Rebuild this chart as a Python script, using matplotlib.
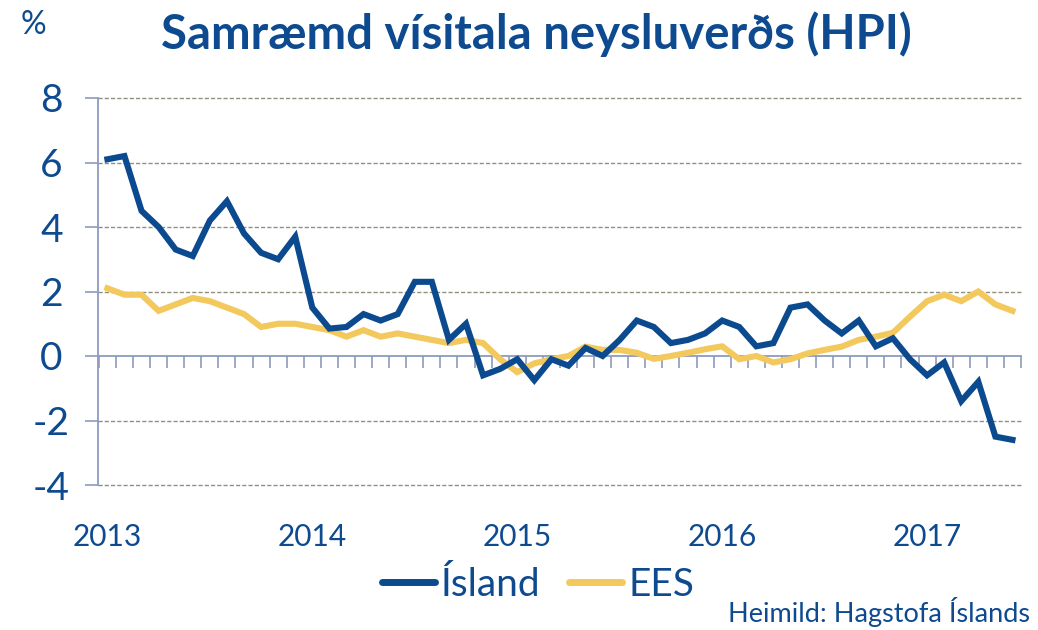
import matplotlib
matplotlib.use("Agg")
import matplotlib.pyplot as plt
import matplotlib.transforms as mtransforms

# ---- data ----
years = ["2013", "2014", "2015", "2016", "2017"]
island = [6.1, 6.2, 4.5, 4.0, 3.3, 3.1, 4.2, 4.8, 3.8, 3.2, 3.0, 3.7,
          1.5, 0.85, 0.9, 1.3, 1.1, 1.3, 2.3, 2.3, 0.5, 1.0, -0.6, -0.4,
          -0.1, -0.75, -0.1, -0.3, 0.25, 0.0, 0.5, 1.1, 0.9, 0.4, 0.5, 0.7,
          1.1, 0.9, 0.3, 0.4, 1.5, 1.6, 1.1, 0.7, 1.1, 0.3, 0.55, -0.1,
          -0.6, -0.2, -1.4, -0.8, -2.5, -2.6]
ees = [2.1, 1.9, 1.9, 1.4, 1.6, 1.8, 1.7, 1.5, 1.3, 0.9, 1.0, 1.0,
       0.9, 0.8, 0.6, 0.8, 0.6, 0.7, 0.6, 0.5, 0.4, 0.5, 0.4, -0.1,
       -0.5, -0.23, -0.1, 0.0, 0.29, 0.19, 0.19, 0.1, -0.09, 0.0, 0.1, 0.21,
       0.3, -0.1, 0.0, -0.2, -0.1, 0.08, 0.19, 0.29, 0.5, 0.6, 0.72, 1.22,
       1.7, 1.9, 1.7, 2.0, 1.6, 1.4]
yticks = [-4, -2, 0, 2, 4, 6, 8]
labels = ["Ísland", "EES"]
title = "Samræmd vísitala neysluverðs (HPI)"
source = "Heimild: Hagstofa Íslands"

BLUE = "#0b4a8e"
YELLOW = "#f3c95e"
TEXT = "#0d4a8f"
AXIS = "#8e9bbf"
GRID = "#8f8f7c"

plt.rcParams['font.family'] = ['Lato', 'DejaVu Sans']

fig = plt.figure(figsize=(10.38, 6.3), dpi=100)
ax = fig.add_axes([98/1038, 1-485/630, (1021-98)/1038, (485-98)/630])

n = len(island)
x = list(range(n))
l1, = ax.plot(x, island, color=BLUE, lw=4.4, solid_joinstyle='miter', label=labels[0], zorder=4)
l2, = ax.plot(x, ees, color=YELLOW, lw=4.4, solid_joinstyle='miter', label=labels[1], zorder=3)

ax.set_xlim(-0.55, n - 0.5)
ax.set_ylim(-4, 8)

for v in yticks:
    if v != 0:
        ax.axhline(v, color=GRID, lw=1.0, ls=(0, (3, 1.5)), zorder=1, clip_on=False)

for s in ['top', 'right']:
    ax.spines[s].set_visible(False)
ax.spines['left'].set_color(AXIS)
ax.spines['left'].set_linewidth(1.3)
ax.spines['bottom'].set_position(('data', 0))
ax.spines['bottom'].set_color(AXIS)
ax.spines['bottom'].set_linewidth(1.3)

ax.set_xticks([i - 0.5 for i in range(n + 1)])
ax.set_xticklabels([])
ax.tick_params(axis='x', direction='out', length=8.5, width=1.2, color=AXIS)

ax.set_yticks(yticks)
ax.set_yticklabels([str(v) for v in yticks])
ax.tick_params(axis='y', direction='out', length=9.5, width=1.2, color=AXIS,
               labelsize=28, labelcolor=TEXT, pad=24)
for t in ax.get_yticklabels():
    t.set_horizontalalignment('center')

trans = mtransforms.blended_transform_factory(ax.transData, fig.transFigure)
for k, yr in enumerate(years):
    ax.text(k * 12, 1 - 537/630, yr, transform=trans, ha='center', va='center',
            fontsize=21.5, color=TEXT)

fig.text(536/1038, 1 - 34/630, title, ha='center', va='center', fontsize=34,
         fontweight='bold', color=TEXT)
fig.text(33/1038, 1 - 25/630, "%", ha='center', va='center', fontsize=23, color=TEXT)
fig.text(1030/1038, 1 - 612/630, source, ha='right', va='center', fontsize=19.5, color=TEXT)

leg = fig.legend(handles=[l1, l2], loc='center', bbox_to_anchor=(538/1038, 1 - 585/630),
                 ncol=2, frameon=False, fontsize=28, handlelength=1.36,
                 handletextpad=0.15, columnspacing=0.75, borderaxespad=0, borderpad=0)
for t in leg.get_texts():
    t.set_color(TEXT)
for h in leg.legend_handles:
    h.set_linewidth(5)
    h.set_solid_capstyle('round')

fig.savefig("out.png", dpi=100)
